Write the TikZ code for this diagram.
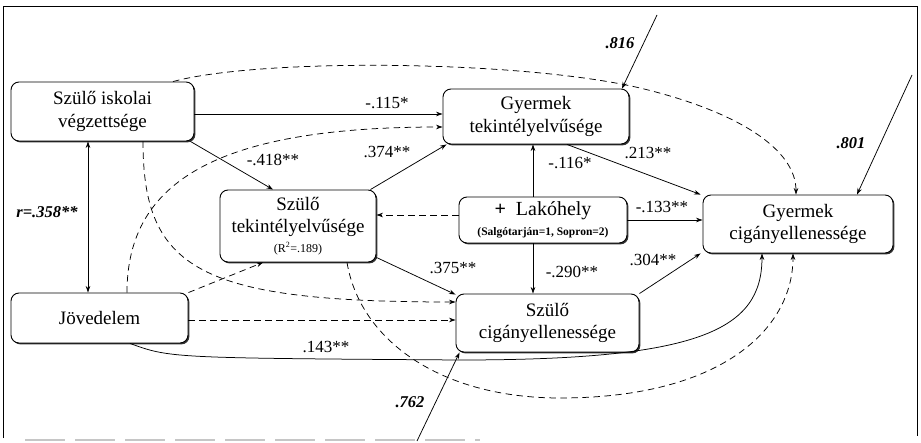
\documentclass[tikz,border=0pt]{standalone}
\usepackage{fontspec}
\setmainfont{Liberation Serif}
\usetikzlibrary{arrows.meta,shadows}

\tikzset{
    >={Stealth[length=6.5pt,width=4.5pt]},
    box/.style={draw, line width=0.9pt, rounded corners=8pt, fill=white, align=center, inner sep=0pt,
        drop shadow={shadow xshift=1.4pt, shadow yshift=-1.4pt, fill=black!80, opacity=1},
        font=\fontsize{19}{22.5}\selectfont},
    arr/.style={->, line width=0.75pt},
    darr/.style={arr, dash pattern=on 6.5pt off 4.5pt},
    coef/.style={font=\fontsize{17}{19}\selectfont, inner sep=1pt},
    err/.style={font=\fontsize{16.5}{19}\selectfont\bfseries\itshape, inner sep=1pt}
}

\begin{document}
\begin{tikzpicture}[x=1pt, y=-1pt]
            \useasboundingbox (0,0) rectangle (921,443);
            \draw[line width=0.8pt] (3,438) -- (3,6) -- (917,6) -- (917,436);
            \draw[gray!45, line width=2pt, dash pattern=on 40pt off 10pt] (25,440) -- (480,440);

            % boxes
            \node[box, minimum width=183pt, minimum height=59pt] (isk) at (102.5,111.5) {Szülő iskolai\\végzettsége};
            \node[box, minimum width=186pt, minimum height=55pt] (gyt) at (536,116.5) {Gyermek\\tekintélyelvűsége};
            \node[box, minimum width=156pt, minimum height=72pt] (szt) at (298,226) {Szülő\\tekintélyelvűsége\\[-3pt]{\fontsize{12}{14}\selectfont(R\textsuperscript{2}=.189)}};
            \node[box, minimum width=168pt, minimum height=46pt] (lak) at (543,220) {{\fontsize{20}{22}\selectfont\textbf{+}\ \ Lakóhely}\\[-2pt]{\fontsize{11.5}{13}\selectfont\bfseries(Salgótarján=1, Sopron=2)}};
            \node[box, minimum width=190pt, minimum height=58pt] (gyc) at (798,224) {Gyermek\\cigányellenessége};
            \node[box, minimum width=183pt, minimum height=58pt] (szc) at (547.5,323) {Szülő\\cigányellenessége};
            \node[box, minimum width=177pt, minimum height=50pt] (jov) at (99.5,318) {Jövedelem};

            % paths
            \draw[arr] ([yshift=-2.5pt]isk.east) -- ([yshift=2.5pt]gyt.west);
            \draw[arr] ([xshift=-4pt]isk.south east) -- ([xshift=-25pt]szt.north);
            \draw[arr] ([xshift=-6pt]szt.north east) -- ([xshift=4pt]gyt.south west);
            \draw[arr, <->] ([xshift=-14.5pt]isk.south) -- ([xshift=-11.5pt]jov.north);
            \draw[arr] ([xshift=-10pt]lak.north) -- ([xshift=-3pt]gyt.south);
            \draw[arr] (lak.east) -- ([yshift=4pt]gyc.west);
            \draw[arr] ([xshift=-10pt]lak.south) -- ([xshift=-14.5pt]szc.north);
            \draw[arr] ([xshift=31pt]gyt.south) -- ([xshift=-2pt]gyc.north west);
            \draw[arr] ([yshift=5pt]szt.south east) -- ([yshift=-1pt]szc.north west);
            \draw[arr] (szc.north east) -- ([xshift=-2pt]gyc.south west);
            \draw[arr] ([xshift=30.5pt]jov.south) .. controls (170,358) .. (460,360)
                .. controls (700,360) and (762,330) .. ([xshift=-36pt]gyc.south);

            \draw[darr] ([xshift=27.5pt]jov.north) .. controls (127,180) and (220,127) .. ([yshift=-10.5pt]gyt.west);
            \draw[darr] ([xshift=40.5pt]isk.south) .. controls (143,270) and (200,302) .. ([yshift=21pt]szc.west);
            \draw[darr] ([yshift=-2pt]jov.east) -- ([yshift=3pt]szc.west);
            \draw[darr] (jov.north east) -- ([xshift=-35pt]szt.south);
            \draw[darr] ([yshift=5pt]lak.west) -- ([yshift=11pt]szt.east);
            \draw[darr] ([xshift=49pt]szt.south) .. controls (360,340) and (440,398) .. (560,398)
                .. controls (720,398) and (793,330) .. ([xshift=-5pt]gyc.south);
            \draw[darr] ([xshift=70.5pt]isk.north) .. controls (260,58) and (520,60) .. (640,88)
                .. controls (740,112) and (796,150) .. ([xshift=-2pt]gyc.north);

            % error terms
            \coordinate (e1) at (657,15);
            \coordinate (e2) at (912,75);
            \coordinate (e3) at (417,441);
            \draw[arr] (e1) -- ([xshift=86pt]gyt.north);
            \draw[arr] (e2) -- ([xshift=59pt]gyc.north);
            \draw[arr] (e3) -- ([xshift=4pt]szc.south west);

            % coefficients
            \foreach \n/\x/\y/\t in {c1/387/103/-.115*, c2/273/160/-.418**, c3/387/152/.374**,
                c4/570/163/-.116*, c5/662/207/-.133**, c6/648/153/.213**, c7/572/272/-.290**,
                c8/453/268/.375**, c9/653/260/.304**, c10/326/347/.143**} {
                \node[coef] (\n) at (\x,\y) {\t};
            }
            \foreach \n/\x/\y/\t in {r1/47/212/r=.358**, r2/620/43/.816, r3/851/143/.801, r4/410/402/.762} {
                \node[err] (\n) at (\x,\y) {\t};
            }
\end{tikzpicture}
\end{document}
